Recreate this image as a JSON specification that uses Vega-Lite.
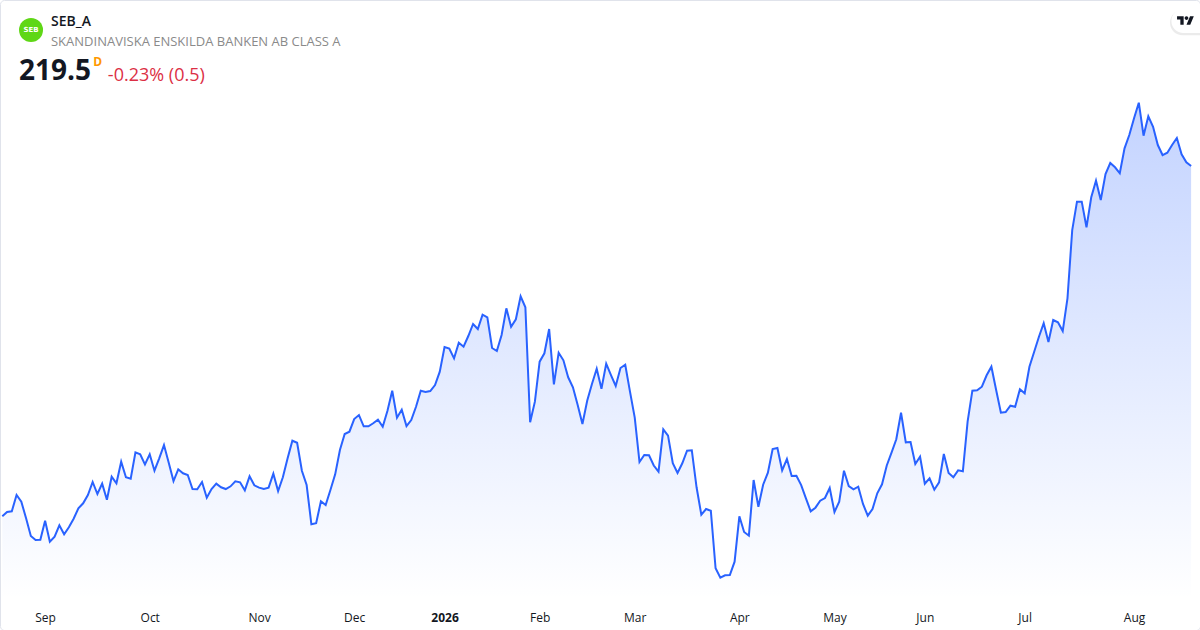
{"$schema":"https://vega.github.io/schema/vega-lite/v6.json","width":1200,"height":630,"padding":0,"autosize":{"type":"none"},"background":"#ffffff","config":{"view":{"stroke":"#e0e3eb","cornerRadius":4},"font":"Open Sans"},
"datasets":{"prices":[{"day":0,"close":175.71},{"day":1,"close":176.25},{"day":2,"close":176.34},{"day":3,"close":178.37},{"day":4,"close":177.54},{"day":5,"close":175.46},{"day":6,"close":173.25},{"day":7,"close":172.75},{"day":8,"close":172.79},{"day":9,"close":175.16},{"day":10,"close":172.54},{"day":11,"close":173.16},{"day":12,"close":174.59},{"day":13,"close":173.46},{"day":14,"close":174.34},{"day":15,"close":175.41},{"day":16,"close":176.71},{"day":17,"close":177.34},{"day":18,"close":178.37},{"day":19,"close":180.0},{"day":20,"close":178.5},{"day":21,"close":179.79},{"day":22,"close":177.79},{"day":23,"close":180.66},{"day":24,"close":179.84},{"day":25,"close":182.54},{"day":26,"close":180.59},{"day":27,"close":180.41},{"day":28,"close":183.71},{"day":29,"close":183.46},{"day":30,"close":182.21},{"day":31,"close":183.46},{"day":32,"close":181.41},{"day":33,"close":182.96},{"day":34,"close":184.62},{"day":35,"close":182.41},{"day":36,"close":180.12},{"day":37,"close":181.59},{"day":38,"close":181.09},{"day":39,"close":180.87},{"day":40,"close":179.12},{"day":41,"close":179.09},{"day":42,"close":180.0},{"day":43,"close":178.04},{"day":44,"close":179.12},{"day":45,"close":179.79},{"day":46,"close":179.34},{"day":47,"close":179.12},{"day":48,"close":179.46},{"day":49,"close":180.09},{"day":50,"close":179.96},{"day":51,"close":178.96},{"day":52,"close":180.71},{"day":53,"close":179.59},{"day":54,"close":179.29},{"day":55,"close":179.12},{"day":56,"close":179.29},{"day":57,"close":181.04},{"day":58,"close":178.87},{"day":59,"close":180.59},{"day":60,"close":182.96},{"day":61,"close":185.16},{"day":62,"close":184.91},{"day":63,"close":181.41},{"day":64,"close":179.62},{"day":65,"close":174.71},{"day":66,"close":174.84},{"day":67,"close":177.59},{"day":68,"close":177.12},{"day":69,"close":179.0},{"day":70,"close":180.96},{"day":71,"close":184.0},{"day":72,"close":186.0},{"day":73,"close":186.29},{"day":74,"close":187.87},{"day":75,"close":188.37},{"day":76,"close":186.96},{"day":77,"close":186.96},{"day":78,"close":187.34},{"day":79,"close":187.79},{"day":80,"close":186.91},{"day":81,"close":188.91},{"day":82,"close":191.41},{"day":83,"close":188.04},{"day":84,"close":189.04},{"day":85,"close":187.0},{"day":86,"close":187.75},{"day":87,"close":189.41},{"day":88,"close":191.41},{"day":89,"close":191.25},{"day":90,"close":191.37},{"day":91,"close":192.12},{"day":92,"close":193.79},{"day":93,"close":196.87},{"day":94,"close":196.69},{"day":95,"close":195.46},{"day":96,"close":197.41},{"day":97,"close":196.91},{"day":98,"close":198.25},{"day":99,"close":199.75},{"day":100,"close":199.12},{"day":101,"close":200.91},{"day":102,"close":200.59},{"day":103,"close":196.75},{"day":104,"close":196.37},{"day":105,"close":198.37},{"day":106,"close":201.71},{"day":107,"close":199.41},{"day":108,"close":200.34},{"day":109,"close":203.21},{"day":110,"close":201.84},{"day":111,"close":187.46},{"day":112,"close":190.04},{"day":113,"close":195.04},{"day":114,"close":196.09},{"day":115,"close":199.12},{"day":116,"close":192.21},{"day":117,"close":196.16},{"day":118,"close":195.21},{"day":119,"close":193.09},{"day":120,"close":191.84},{"day":121,"close":189.62},{"day":122,"close":187.25},{"day":123,"close":190.16},{"day":124,"close":192.25},{"day":125,"close":194.16},{"day":126,"close":191.66},{"day":127,"close":194.79},{"day":128,"close":193.37},{"day":129,"close":192.0},{"day":130,"close":194.25},{"day":131,"close":194.66},{"day":132,"close":191.29},{"day":133,"close":188.06},{"day":134,"close":182.5},{"day":135,"close":183.37},{"day":136,"close":183.34},{"day":137,"close":182.06},{"day":138,"close":181.29},{"day":139,"close":186.59},{"day":140,"close":185.79},{"day":141,"close":182.34},{"day":142,"close":181.12},{"day":143,"close":182.34},{"day":144,"close":183.91},{"day":145,"close":183.96},{"day":146,"close":179.34},{"day":147,"close":175.91},{"day":148,"close":176.62},{"day":149,"close":176.41},{"day":150,"close":169.21},{"day":151,"close":168.04},{"day":152,"close":168.34},{"day":153,"close":168.37},{"day":154,"close":170.04},{"day":155,"close":175.71},{"day":156,"close":173.75},{"day":157,"close":173.29},{"day":158,"close":180.25},{"day":159,"close":176.91},{"day":160,"close":179.66},{"day":161,"close":181.16},{"day":162,"close":184.12},{"day":163,"close":184.25},{"day":164,"close":181.46},{"day":165,"close":182.87},{"day":166,"close":180.75},{"day":167,"close":180.79},{"day":168,"close":179.62},{"day":169,"close":177.96},{"day":170,"close":176.34},{"day":171,"close":176.79},{"day":172,"close":177.66},{"day":173,"close":178.0},{"day":174,"close":179.25},{"day":175,"close":176.25},{"day":176,"close":177.54},{"day":177,"close":181.41},{"day":178,"close":179.5},{"day":179,"close":179.09},{"day":180,"close":179.41},{"day":181,"close":177.25},{"day":182,"close":175.79},{"day":183,"close":176.62},{"day":184,"close":178.59},{"day":185,"close":179.71},{"day":186,"close":182.06},{"day":187,"close":183.66},{"day":188,"close":185.34},{"day":189,"close":188.66},{"day":190,"close":184.96},{"day":191,"close":185.0},{"day":192,"close":182.25},{"day":193,"close":183.16},{"day":194,"close":179.79},{"day":195,"close":180.46},{"day":196,"close":179.04},{"day":197,"close":179.96},{"day":198,"close":183.5},{"day":199,"close":181.12},{"day":200,"close":180.59},{"day":201,"close":181.46},{"day":202,"close":181.34},{"day":203,"close":187.54},{"day":204,"close":191.41},{"day":205,"close":191.46},{"day":206,"close":191.91},{"day":207,"close":193.34},{"day":208,"close":194.41},{"day":209,"close":191.5},{"day":210,"close":188.66},{"day":211,"close":188.75},{"day":212,"close":189.54},{"day":213,"close":189.41},{"day":214,"close":191.59},{"day":215,"close":191.09},{"day":216,"close":194.41},{"day":217,"close":196.29},{"day":218,"close":198.16},{"day":219,"close":199.84},{"day":220,"close":197.5},{"day":221,"close":200.25},{"day":222,"close":199.96},{"day":223,"close":198.87},{"day":224,"close":202.96},{"day":225,"close":211.5},{"day":226,"close":215.04},{"day":227,"close":215.04},{"day":228,"close":211.84},{"day":229,"close":215.59},{"day":230,"close":217.66},{"day":231,"close":215.25},{"day":232,"close":218.5},{"day":233,"close":219.87},{"day":234,"close":219.34},{"day":235,"close":218.59},{"day":236,"close":221.71},{"day":237,"close":223.37},{"day":238,"close":225.46},{"day":239,"close":227.41},{"day":240,"close":223.29},{"day":241,"close":225.71},{"day":242,"close":224.41},{"day":243,"close":222.12},{"day":244,"close":220.87},{"day":245,"close":221.16},{"day":246,"close":222.12},{"day":247,"close":223.0},{"day":248,"close":220.96},{"day":249,"close":219.96},{"day":250,"close":219.5}],"one":[{}]},
"layer":[
{"data":{"name":"prices"},"mark":{"type":"area","line":false,"interpolate":"linear","color":{"gradient":"linear","x1":0,"y1":0,"x2":0,"y2":1,"stops":[{"offset":0,"color":"rgba(41,98,255,0.28)"},{"offset":1,"color":"rgba(41,98,255,0)"}]}},
"encoding":{"x":{"field":"day","type":"quantitative","scale":{"domain":[-0.484,251.87],"nice":false,"zero":false},"axis":{"orient":"bottom","offset":-18,"grid":false,"domain":false,"ticks":false,"labelPadding":0,"labelFontSize":12,"labelColor":"#131722","labelAngle":0,"title":null,"values":[9,31,54,74,93,113,133,155,175,194,215,238],"labelFlush":false,"labelOverlap":false,"labelExpr":"{'9':'Sep','31':'Oct','54':'Nov','74':'Dec','93':'2026','113':'Feb','133':'Mar','155':'Apr','175':'May','194':'Jun','215':'Jul','238':'Aug'}[datum.value]","labelFontWeight":{"condition":{"test":"datum.value == 93","value":"bold"},"value":"normal"}}},"y":{"field":"close","type":"quantitative","scale":{"domain":[161.5,240.25],"nice":false,"zero":false},"axis":null},"y2":{"datum":165.25}}},
{"data":{"name":"prices"},"mark":{"type":"line","color":"#2962ff","strokeWidth":2,"interpolate":"linear"},"encoding":{"x":{"field":"day","type":"quantitative"},"y":{"field":"close","type":"quantitative"}}},
{"data":{"name":"one"},"mark":{"type":"point","filled":true,"color":"#5fd716","opacity":1,"size":576},"encoding":{"x":{"datum":6.04,"type":"quantitative"},"y":{"datum":236.5,"type":"quantitative"}}},
{"data":{"name":"one"},"mark":{"type":"text","text":"SEB","font":"DejaVu Sans","fontWeight":"bold","fontSize":7,"color":"#ffffff","align":"center","baseline":"middle"},"encoding":{"x":{"datum":6.04,"type":"quantitative"},"y":{"datum":236.5,"type":"quantitative"}}},
{"data":{"name":"one"},"mark":{"type":"text","text":"SEB_A","fontWeight":600,"fontSize":14,"color":"#131722","align":"left","baseline":"middle"},"encoding":{"x":{"datum":10.24,"type":"quantitative"},"y":{"datum":237.48,"type":"quantitative"}}},
{"data":{"name":"one"},"mark":{"type":"text","text":"SKANDINAVISKA ENSKILDA BANKEN AB CLASS A","fontSize":13,"color":"#8a8a8a","align":"left","baseline":"middle"},"encoding":{"x":{"datum":10.24,"type":"quantitative"},"y":{"datum":235.0,"type":"quantitative"}}},
{"data":{"name":"one"},"mark":{"type":"text","text":"219.5","fontWeight":"bold","fontSize":28,"color":"#131722","align":"left","baseline":"middle"},"encoding":{"x":{"datum":3.5,"type":"quantitative"},"y":{"datum":231.2,"type":"quantitative"}}},
{"data":{"name":"one"},"mark":{"type":"text","text":"D","fontWeight":"bold","fontSize":12,"color":"#ff9800","align":"left","baseline":"middle"},"encoding":{"x":{"datum":19.1,"type":"quantitative"},"y":{"datum":232.5,"type":"quantitative"}}},
{"data":{"name":"one"},"mark":{"type":"text","text":"-0.23% (0.5)","fontSize":18,"color":"#dc2f45","align":"left","baseline":"middle"},"encoding":{"x":{"datum":22.2,"type":"quantitative"},"y":{"datum":230.78,"type":"quantitative"}}},
{"data":{"name":"one"},"mark":{"type":"point","filled":true,"color":"#000000","opacity":0.08,"size":920,"shape":"M1 -0.828L-0.172 -0.828A0.828 0.828 0 0 0 -0.172 0.828L1 0.828Z"},"encoding":{"x":{"datum":248.75,"type":"quantitative"},"y":{"datum":237.42,"type":"quantitative"}}},
{"data":{"name":"one"},"mark":{"type":"point","filled":true,"color":"#ffffff","opacity":1,"size":841,"shape":"M1 -0.828L-0.172 -0.828A0.828 0.828 0 0 0 -0.172 0.828L1 0.828Z"},"encoding":{"x":{"datum":248.9,"type":"quantitative"},"y":{"datum":237.62,"type":"quantitative"}}},
{"data":{"name":"one"},"mark":{"type":"point","filled":true,"color":"#131722","opacity":1,"size":289,"shape":"M-0.222 0.5L-0.611 0.5L-0.611 -0.111L-1 -0.111L-1 -0.5L-0.222 -0.5ZM0.556 0.5L0.111 0.5L0.528 -0.5L0.972 -0.5ZM-0.111 -0.278a0.222 0.222 0 1 0 0.444 0a0.222 0.222 0 1 0 -0.444 0Z"},"encoding":{"x":{"datum":248.83,"type":"quantitative"},"y":{"datum":237.69,"type":"quantitative"}}}
]}
